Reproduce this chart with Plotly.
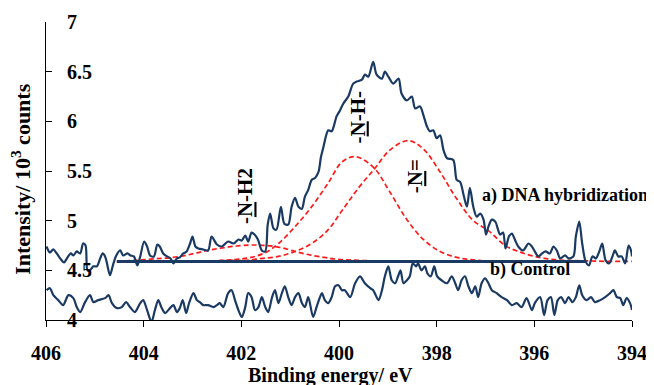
import plotly.graph_objects as go

# ---- data ----
dna_be = [405.99, 405.92, 405.85, 405.78, 405.71, 405.63, 405.56, 405.49, 405.44, 405.37,
          405.30, 405.24, 405.19, 405.15, 405.10, 405.03, 404.96, 404.89, 404.84, 404.79,
          404.76, 404.69, 404.63, 404.57, 404.48, 404.42, 404.33, 404.27, 404.20, 404.13,
          404.07, 403.99, 403.93, 403.87, 403.79, 403.72, 403.67, 403.60, 403.52, 403.45,
          403.39, 403.32, 403.26, 403.19, 403.12, 403.05, 403.00, 402.94, 402.88, 402.78,
          402.68, 402.61, 402.50, 402.40, 402.27, 402.16, 402.06, 401.99, 401.92, 401.86,
          401.79, 401.73, 401.66, 401.58, 401.51, 401.46, 401.41, 401.34, 401.28, 401.19,
          401.12, 401.04, 400.97, 400.90, 400.83, 400.76, 400.70, 400.63, 400.56, 400.49,
          400.42, 400.37, 400.32, 400.22, 400.15, 400.05, 399.98, 399.91, 399.81, 399.71,
          399.64, 399.53, 399.47, 399.40, 399.30, 399.23, 399.12, 399.06, 398.99, 398.89,
          398.78, 398.72, 398.61, 398.51, 398.44, 398.34, 398.27, 398.20, 398.14, 398.07,
          398.00, 397.93, 397.86, 397.79, 397.66, 397.59, 397.52, 397.44, 397.38, 397.32,
          397.25, 397.18, 397.11, 397.04, 396.99, 396.94, 396.87, 396.80, 396.70, 396.64,
          396.59, 396.52, 396.46, 396.40, 396.33, 396.23, 396.12, 396.05, 395.99, 395.92,
          395.84, 395.77, 395.68, 395.61, 395.54, 395.47, 395.37, 395.30, 395.20, 395.15,
          395.08, 395.02, 394.95, 394.88, 394.81, 394.74, 394.67, 394.61, 394.54, 394.47,
          394.40, 394.35, 394.28, 394.21, 394.14, 394.07, 394.02, 394.00]
dna_int = [4.74, 4.68, 4.71, 4.67, 4.62, 4.58, 4.63, 4.67, 4.65, 4.69,
           4.67, 4.77, 4.75, 4.50, 4.50, 4.54, 4.54, 4.62, 4.67, 4.64,
           4.59, 4.45, 4.55, 4.64, 4.70, 4.65, 4.67, 4.65, 4.64, 4.55,
           4.64, 4.79, 4.74, 4.65, 4.64, 4.76, 4.74, 4.67, 4.64, 4.62,
           4.57, 4.62, 4.63, 4.67, 4.69, 4.77, 4.84, 4.74, 4.72, 4.71,
           4.70, 4.84, 4.76, 4.74, 4.79, 4.77, 4.81, 4.80, 4.85, 4.79,
           4.88, 4.86, 4.81, 4.70, 4.69, 4.96, 5.07, 4.92, 4.91, 5.14,
           4.97, 4.96, 5.14, 5.23, 5.14, 5.12, 5.24, 5.31, 5.41, 5.43,
           5.49, 5.64, 5.74, 5.91, 5.90, 6.05, 6.11, 6.18, 6.25, 6.38,
           6.40, 6.42, 6.47, 6.45, 6.60, 6.47, 6.43, 6.50, 6.45, 6.38,
           6.43, 6.28, 6.21, 6.25, 6.13, 6.15, 6.06, 5.95, 5.90, 5.91,
           5.83, 5.86, 5.71, 5.63, 5.61, 5.41, 5.39, 5.24, 5.14, 5.33,
           5.14, 5.04, 5.07, 5.01, 4.86, 4.94, 5.01, 4.99, 4.86, 4.88,
           4.72, 4.84, 4.87, 4.81, 4.74, 4.70, 4.77, 4.74, 4.69, 4.64,
           4.67, 4.69, 4.67, 4.74, 4.70, 4.62, 4.65, 4.62, 4.64, 4.84,
           4.99, 4.77, 4.59, 4.55, 4.64, 4.62, 4.69, 4.77, 4.60, 4.57,
           4.64, 4.70, 4.64, 4.64, 4.57, 4.75, 4.70, 4.64]

ctrl_be = [405.99, 405.92, 405.85, 405.75, 405.65, 405.54, 405.44, 405.37, 405.30, 405.20,
           405.10, 405.03, 404.93, 404.79, 404.72, 404.65, 404.55, 404.45, 404.36, 404.28,
           404.18, 404.07, 404.01, 403.93, 403.84, 403.77, 403.70, 403.63, 403.56, 403.46,
           403.39, 403.32, 403.26, 403.20, 403.13, 403.07, 402.98, 402.91, 402.85, 402.78,
           402.68, 402.57, 402.50, 402.44, 402.37, 402.27, 402.20, 402.13, 402.06, 401.99,
           401.92, 401.86, 401.79, 401.72, 401.65, 401.58, 401.51, 401.45, 401.37, 401.31,
           401.24, 401.17, 401.11, 401.04, 400.97, 400.90, 400.83, 400.76, 400.70, 400.63,
           400.53, 400.46, 400.39, 400.35, 400.29, 400.22, 400.15, 400.08, 400.01, 399.94,
           399.88, 399.77, 399.67, 399.57, 399.47, 399.36, 399.30, 399.19, 399.12, 399.06,
           398.99, 398.92, 398.85, 398.79, 398.74, 398.68, 398.61, 398.55, 398.49, 398.42,
           398.38, 398.31, 398.24, 398.19, 398.12, 398.05, 397.99, 397.90, 397.79, 397.69,
           397.62, 397.56, 397.49, 397.42, 397.35, 397.28, 397.21, 397.15, 397.08, 397.01,
           396.94, 396.87, 396.77, 396.67, 396.56, 396.46, 396.36, 396.26, 396.16, 396.05,
           395.99, 395.88, 395.80, 395.73, 395.66, 395.59, 395.52, 395.45, 395.37, 395.30,
           395.22, 395.15, 395.08, 395.02, 394.93, 394.84, 394.76, 394.65, 394.55, 394.45,
           394.38, 394.31, 394.24, 394.18, 394.11, 394.04, 394.00]
ctrl_int = [4.30, 4.32, 4.25, 4.20, 4.15, 4.25, 4.22, 4.13, 4.08, 4.18,
            4.25, 4.18, 4.20, 4.22, 4.25, 4.17, 4.12, 4.13, 4.18, 4.13,
            4.08, 4.17, 4.20, 4.10, 3.98, 4.10, 4.20, 4.12, 4.07, 4.12,
            4.15, 4.08, 4.12, 4.20, 4.07, 4.17, 4.27, 4.20, 4.18, 4.15,
            4.15, 4.13, 4.15, 4.17, 4.13, 4.27, 4.30, 4.20, 4.10, 4.03,
            4.13, 4.27, 4.23, 4.10, 4.13, 4.23, 4.13, 4.08, 4.23, 4.30,
            4.17, 4.27, 4.34, 4.23, 4.15, 4.23, 4.27, 4.17, 4.13, 4.23,
            4.03, 4.13, 4.23, 4.27, 4.20, 4.17, 4.23, 4.34, 4.35, 4.30,
            4.30, 4.23, 4.37, 4.44, 4.37, 4.32, 4.30, 4.20, 4.30, 4.44,
            4.54, 4.40, 4.37, 4.44, 4.50, 4.37, 4.40, 4.44, 4.57, 4.54,
            4.57, 4.50, 4.54, 4.47, 4.44, 4.54, 4.44, 4.40, 4.37, 4.44,
            4.37, 4.30, 4.40, 4.44, 4.34, 4.27, 4.34, 4.23, 4.37, 4.42,
            4.37, 4.30, 4.27, 4.23, 4.20, 4.15, 4.17, 4.13, 4.22, 4.10,
            4.17, 4.23, 4.05, 4.20, 4.23, 4.05, 4.20, 4.23, 4.17, 4.23,
            4.18, 4.23, 4.35, 4.25, 4.20, 4.23, 4.18, 4.20, 4.23, 4.27,
            4.30, 4.23, 4.22, 4.15, 4.22, 4.17, 4.10]

base_be = [404.55, 394.96]
base_int = [4.59, 4.59]

# fitted components
nh2_be = [404.55, 404.2, 403.8, 403.4, 403.0, 402.7, 402.4, 402.1, 401.8, 401.5,
          401.2, 400.9, 400.6, 400.3, 400.0, 399.6, 399.0]
nh2_int = [4.59, 4.60, 4.615, 4.63, 4.665, 4.70, 4.725, 4.745, 4.755, 4.75,
           4.73, 4.69, 4.655, 4.63, 4.61, 4.60, 4.59]

nh_be = [402.8, 402.4, 402.1, 401.8, 401.5, 401.24, 400.9, 400.56, 400.22, 399.94,
         399.67, 399.3, 398.96, 398.61, 398.27, 397.93, 397.59, 397.25, 396.8, 396.3]
nh_int = [4.59, 4.60, 4.61, 4.63, 4.68, 4.77, 4.94, 5.14, 5.38, 5.59,
          5.645, 5.54, 5.29, 5.01, 4.81, 4.69, 4.63, 4.605, 4.59, 4.59]

ne_be = [402.6, 402.2, 401.92, 401.58, 401.24, 400.9, 400.56, 400.22, 399.94, 399.6,
         399.26, 398.96, 398.58, 398.27, 397.93, 397.59, 397.25, 396.94, 396.6, 396.33,
         395.99, 395.64, 395.31, 394.9, 394.5, 394.0]
ne_int = [4.595, 4.60, 4.60, 4.62, 4.64, 4.69, 4.77, 4.91, 5.10, 5.33,
          5.53, 5.71, 5.806, 5.72, 5.49, 5.22, 5.00, 4.90, 4.75, 4.69,
          4.64, 4.61, 4.60, 4.595, 4.59, 4.59]

x_ticks = [406, 404, 402, 400, 398, 396, 394]
y_ticks = [4, 4.5, 5, 5.5, 6, 6.5, 7]

NAVY = "#1B3A63"
RED = "#FF1A1A"
FONT = "Liberation Serif"

fig = go.Figure()
for bx, by in [(nh2_be, nh2_int), (nh_be, nh_int), (ne_be, ne_int)]:
    fig.add_trace(go.Scatter(x=bx, y=by, mode="lines", line_shape="spline",
                             line=dict(color=RED, width=1.7, dash="5px,3px"),
                             hoverinfo="skip", showlegend=False))
fig.add_trace(go.Scatter(x=ctrl_be, y=ctrl_int, mode="lines", line_shape="spline",
                         line=dict(color=NAVY, width=2.2, smoothing=0.8), showlegend=False))
fig.add_trace(go.Scatter(x=dna_be, y=dna_int, mode="lines", line_shape="spline",
                         line=dict(color=NAVY, width=2.2, smoothing=0.8), showlegend=False))
fig.add_trace(go.Scatter(x=base_be, y=base_int, mode="lines",
                         line=dict(color=NAVY, width=3), showlegend=False))

ann_font = dict(family=FONT, size=21, color="black")
fig.add_annotation(x=401.92, y=5.25, xref="x", yref="y", text="<b>-<u>N</u>-H2</b>",
                   textangle=-90, showarrow=False, font=ann_font,
                   xanchor="center", yanchor="middle")
fig.add_annotation(x=399.61, y=6.04, xref="x", yref="y", text="<b>-<u>N</u>-H-</b>",
                   textangle=-90, showarrow=False, font=ann_font,
                   xanchor="center", yanchor="middle")
fig.add_annotation(x=398.44, y=5.45, xref="x", yref="y", text="<b>-<u>N</u>=</b>",
                   textangle=-90, showarrow=False, font=ann_font,
                   xanchor="center", yanchor="middle")
fig.add_annotation(x=397.12, y=5.25, xref="x", yref="y", text="<b>a) DNA hybridization</b>",
                   xanchor="left", yanchor="middle", showarrow=False,
                   font=dict(family=FONT, size=18, color="black"))
fig.add_annotation(x=396.95, y=4.51, xref="x", yref="y", text="<b>b) Control</b>",
                   xanchor="left", yanchor="middle", showarrow=False,
                   font=dict(family=FONT, size=18, color="black"))

fig.add_annotation(x=-0.042, y=0.475, xref="paper", yref="paper",
                   text="<b>Intensity/ 10<sup>3</sup> counts</b>", textangle=-90,
                   xanchor="center", yanchor="middle",
                   showarrow=False, font=dict(family=FONT, size=22, color="black"))
fig.add_annotation(x=0.485, y=-0.185, xref="paper", yref="paper",
                   text="<b>Binding energy/ eV</b>", xanchor="center", yanchor="middle",
                   showarrow=False, font=dict(family=FONT, size=20, color="black"))

# the page body adds an 8px offset; margins compensate so the plot area lands
# at x 46..632, y 22..320 of the window
fig.update_layout(
    width=654, height=385,
    margin=dict(l=38, r=30, t=14, b=73),
    paper_bgcolor="white", plot_bgcolor="white",
    xaxis=dict(range=[406, 394], tickvals=x_ticks, ticktext=[f"<b>{v}</b>" for v in x_ticks],
               ticks="outside", ticklen=6, tickcolor="black", showline=True, linecolor="black",
               linewidth=1, showgrid=False, zeroline=False, ticklabelstandoff=9,
               automargin=False, ticklabeloverflow="allow",
               tickfont=dict(family=FONT, size=20, color="black")),
    yaxis=dict(range=[4, 7], tickvals=y_ticks, ticktext=[f"<b>{v:g}</b>" for v in y_ticks],
               ticks="inside", ticklen=6, tickcolor="black", showline=True, linecolor="black",
               linewidth=1, showgrid=False, zeroline=False, ticklabelposition="inside",
               ticklabelstandoff=16, automargin=False, ticklabeloverflow="allow",
               tickfont=dict(family=FONT, size=20, color="black")),
)

fig.write_html("out.html")
